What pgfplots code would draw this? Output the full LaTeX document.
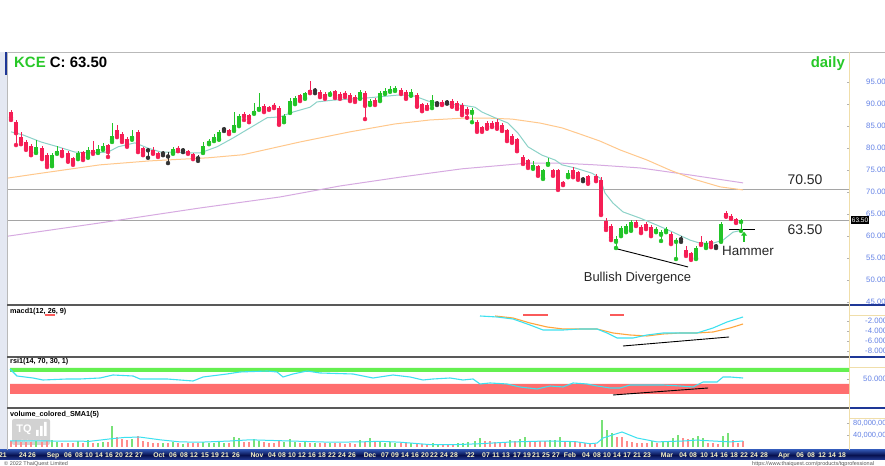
\documentclass[border=0pt]{standalone}
\usepackage{pgfplots}
\pgfplotsset{compat=1.18}
\usepackage{pgfplotstable}
\usepackage{fontspec}
\setmainfont{Liberation Sans}
\usetikzlibrary{arrows.meta}

\definecolor{candlegreen}{RGB}{34,196,40}
\definecolor{candlered}{RGB}{245,30,85}
\definecolor{histred}{RGB}{250,90,90}
\definecolor{volgreen}{RGB}{120,225,120}
\definecolor{volred}{RGB}{255,140,140}
\definecolor{cyanl}{RGB}{60,225,240}
\definecolor{orgl}{RGB}{255,165,60}
\definecolor{bandg}{RGB}{100,240,80}
\definecolor{bandr}{RGB}{255,110,110}
\definecolor{tealma}{RGB}{140,210,200}
\definecolor{orgma}{RGB}{255,200,140}
\definecolor{purma}{RGB}{215,170,225}
\definecolor{lvl}{RGB}{165,165,165}
\definecolor{tickblue}{RGB}{100,130,230}
\definecolor{beige}{RGB}{240,222,170}
\definecolor{sepblue}{RGB}{30,55,150}
\definecolor{datecol}{RGB}{250,245,200}
\definecolor{stripcol}{RGB}{228,232,242}
\definecolor{tqgreen}{RGB}{40,200,40}

\pgfplotstableread{
x o h l c
36 79.0 81.8 78.8 80.2
52 76.1 78.8 75.8 78.3
57 78.8 80.4 78.6 79.3
78 77.9 79.3 77.4 78.8
88 77.9 80.2 77.7 79.5
98 79.0 80.6 78.8 79.7
103 79.7 81.1 79.5 80.4
112 81.8 85.6 81.3 82.7
132 82.2 84.0 81.8 82.7
173 78.8 80.2 78.6 79.7
203 79.0 81.3 78.8 80.4
209 81.1 82.0 80.8 81.5
214 81.8 83.1 81.5 82.4
219 82.0 84.0 81.8 83.6
234 84.0 88.1 83.8 85.2
239 85.2 87.7 84.9 87.2
254 87.9 90.2 87.7 88.3
259 88.8 92.4 88.6 89.3
284 86.3 87.7 85.8 87.2
290 88.1 91.3 87.9 90.6
295 90.2 91.8 89.9 91.3
305 91.3 92.7 91.1 92.4
330 92.2 92.9 92.0 92.4
360 91.3 93.1 91.1 92.7
370 89.9 91.1 89.7 90.6
380 90.8 92.9 90.6 92.4
385 92.4 93.6 92.2 92.9
390 92.9 94.1 92.7 93.4
395 93.1 94.1 92.9 93.6
411 92.0 93.4 91.8 92.7
432 89.7 91.9 89.0 90.8
472 87.9 89.0 85.8 88.6
533 75.4 77.0 75.2 76.1
543 73.1 75.2 72.9 74.9
548 76.3 77.7 76.1 76.8
568 73.6 74.9 73.3 74.3
616 58.6 60.0 57.2 59.3
621 60.2 62.2 59.9 61.8
626 61.1 62.7 60.8 62.2
631 61.3 63.6 61.1 63.1
656 61.1 62.0 60.8 61.5
661 60.2 61.3 58.8 60.8
666 61.1 62.0 60.8 61.5
676 58.6 59.5 54.7 59.0
696 54.9 57.7 54.7 57.2
706 57.4 58.8 57.2 58.3
721 58.8 63.1 58.6 62.7
741 63.1 63.8 61.1 63.5
}\greenC

\pgfplotstableread{
x o h l c
11 88.1 88.6 86.3 86.8
16 85.8 86.3 80.6 83.3
21 82.4 83.6 80.8 81.3
26 81.3 81.8 79.5 79.9
31 80.4 80.8 78.3 78.8
42 79.9 80.4 77.4 77.9
47 78.3 78.8 75.6 76.1
62 79.5 79.9 78.1 78.3
68 78.8 79.3 76.8 77.2
73 77.7 77.9 76.1 76.5
83 79.0 79.3 77.2 77.7
93 79.5 81.5 78.6 79.0
108 80.6 80.8 77.9 79.0
117 84.0 85.2 82.4 82.9
122 83.1 83.6 81.3 81.8
127 82.0 82.4 80.2 80.6
138 83.6 84.0 79.0 79.5
143 79.9 80.2 78.3 78.8
153 79.5 80.2 78.6 78.8
158 78.8 79.0 77.9 78.3
178 79.9 80.4 79.2 79.5
188 79.3 79.5 78.6 78.8
193 78.6 78.8 77.4 77.9
229 84.0 84.3 83.1 83.3
244 87.7 88.1 86.3 87.0
249 87.4 87.7 85.8 86.5
264 89.5 89.9 88.1 88.3
269 89.3 89.5 88.6 88.8
274 89.7 90.2 89.0 89.3
279 89.0 89.5 85.2 85.4
300 92.0 92.2 90.6 90.8
310 93.1 95.2 92.4 92.7
320 92.7 93.1 91.5 91.8
325 92.2 92.7 91.1 91.5
335 92.9 93.1 91.3 91.8
340 92.2 92.7 91.1 91.5
345 92.4 92.9 91.5 92.0
350 92.0 92.4 90.6 90.8
355 91.5 92.0 90.4 90.8
365 92.4 92.9 86.5 89.5
375 90.8 91.3 89.7 90.2
401 93.1 93.6 92.2 92.4
406 92.7 93.1 91.1 91.3
417 92.0 92.4 89.3 89.5
422 89.9 90.2 88.3 88.6
427 89.7 90.2 88.8 89.0
442 90.4 90.8 89.7 89.9
452 90.6 91.1 89.3 89.5
457 90.2 90.6 88.8 89.0
462 89.7 90.2 87.4 87.9
467 88.8 89.3 86.8 87.9
477 85.8 86.3 83.6 84.0
482 84.7 84.9 83.6 84.0
487 85.6 86.1 84.3 84.7
492 85.6 86.1 84.7 84.9
497 85.8 86.5 84.3 84.7
502 85.2 85.6 83.8 84.0
507 84.0 84.3 81.5 81.8
512 82.7 83.1 81.1 81.3
517 82.0 82.2 79.2 79.5
523 77.9 78.3 76.3 76.5
528 77.2 77.4 75.4 75.8
538 75.8 76.1 73.6 73.8
553 74.9 75.2 73.6 73.8
558 74.9 75.2 70.4 70.8
563 72.2 72.4 71.5 71.8
573 74.9 75.6 73.3 73.6
578 74.5 74.7 72.7 73.1
588 73.6 73.8 71.8 72.2
596 73.6 74.0 72.4 72.7
601 72.7 73.3 64.7 64.9
606 63.3 64.0 61.3 61.8
611 62.2 62.7 59.0 59.5
636 63.1 63.6 62.2 62.4
641 62.0 62.4 60.6 60.8
646 62.7 63.1 61.5 61.8
651 62.0 62.4 59.9 60.2
671 60.4 60.8 58.1 58.3
686 56.8 57.7 55.4 55.8
691 56.1 56.3 54.5 54.9
701 58.6 59.9 57.9 58.1
711 58.8 59.0 57.4 57.7
726 65.2 65.6 64.3 64.5
731 64.5 64.9 63.8 64.0
736 63.8 64.0 62.9 63.1
}\redC

\pgfplotstableread{
x o h l c
148 79.6 79.9 77.7 79.4
163 78.9 79.3 78.3 78.7
168 78.2 79.0 76.5 78.0
183 79.6 79.9 79.0 79.4
198 77.8 78.3 77.0 77.6
224 84.4 84.7 83.8 84.2
315 93.2 93.6 92.4 93.0
437 90.3 90.6 89.7 90.1
447 90.5 90.8 90.0 90.3
583 73.0 73.3 72.4 72.8
681 59.4 59.9 58.6 59.2
716 57.8 58.1 57.2 57.6
}\dojiC

\pgfplotstableread{
x v
36 20
52 22
57 15
78 20
88 22
98 12
103 15
112 70
132 25
163 12
173 16
183 11
203 18
209 14
214 13
219 16
224 12
234 33
239 30
254 25
259 20
284 18
290 25
295 16
305 18
315 12
330 12
360 22
370 30
380 18
385 14
390 15
395 13
411 12
433 13
438 10
458 13
463 13
468 17
475 20
480 30
510 23
520 27
525 33
550 23
555 23
560 33
570 20
602 90
607 57
612 47
652 20
663 20
668 20
673 30
678 40
693 30
698 37
703 30
723 37
728 47
}\volG

\pgfplotstableread{
x v
11 20
16 22
21 18
26 16
31 18
42 18
47 20
62 14
68 12
73 13
83 14
93 14
108 17
117 33
122 28
127 22
138 37
143 20
148 16
153 14
158 12
168 14
178 12
188 12
193 14
198 12
229 12
244 18
249 16
264 18
269 14
274 14
279 22
300 14
310 13
320 14
325 12
335 13
340 12
345 11
350 12
355 11
365 15
375 15
401 12
406 12
417 12
422 10
427 9
443 10
448 7
453 7
485 20
490 20
495 17
500 17
505 13
515 20
530 20
535 17
540 20
545 20
565 17
575 20
580 17
585 13
590 13
595 10
617 33
622 33
627 20
632 17
637 13
642 13
647 13
657 13
683 30
688 27
708 13
713 13
718 10
733 23
738 13
743 20
}\volR

\pgfplotstableread{
x y
45 -0.9
55 -0.9
nan nan
523 -0.9
548 -0.9
nan nan
610 -0.9
624 -0.9
}\macdHist

\pgfplotsset{
  tqpanel/.style={
    scale only axis, width=849bp, xmin=0, xmax=849,
    anchor=south west,
    axis y line*=right,
    y axis line style={draw=beige, line width=1bp},
    ytick style={draw=gray!60},
    major tick length=2bp,
    yticklabel style={font=\fontsize{7.8}{8}\selectfont, text=tickblue, anchor=west, inner sep=0pt},
  },
  wick/.style={only marks, mark=none, forget plot, color=#1,
    error bars/y dir=plus, error bars/y explicit, error bars/error mark=none,
    error bars/error bar style={line width=0.9bp, color=#1, solid}},
  body/.style={only marks, mark=none, forget plot, color=#1,
    error bars/y dir=plus, error bars/y explicit, error bars/error mark=none,
    error bars/error bar style={line width=3.8bp, color=#1, solid}},
}

\begin{document}
\begin{tikzpicture}[x=1bp,y=1bp]
\useasboundingbox (0,0) rectangle (885,466);
\clip (0,0) rectangle (885,466);
\fill[white] (0,0) rectangle (885,466);
% left strip
\fill[stripcol] (0,16) rectangle (7,414);
\fill[sepblue] (4.5,391) rectangle (7.5,414);
% date bar
\shade[top color={rgb,255:red,45;green,80;blue,170}, bottom color={rgb,255:red,35;green,60;blue,150}, middle color={rgb,255:red,8;green,18;blue,80}] (0,6) rectangle (885,16);
% frames
\draw[gray!55, line width=0.8bp] (7,414) -- (885,414);
\draw[gray!55, line width=0.8bp] (7.5,16) -- (7.5,414);
\draw[gray!70!black, line width=1.4bp] (7,161) -- (849,161);
\draw[gray!70!black, line width=1.4bp] (7,109) -- (849,109);
\draw[gray!70!black, line width=1.4bp] (7,58) -- (849,58);
\draw[sepblue, line width=1.4bp] (849,161) -- (885,161);
\draw[sepblue, line width=1.4bp] (849,109) -- (885,109);
\draw[sepblue, line width=1.4bp] (849,58) -- (885,58);
\draw[beige, line width=1bp] (849.5,150) -- (885,150);
\draw[beige, line width=1bp] (849.5,98) -- (885,98);
\draw[beige, line width=1bp] (849.5,47) -- (885,47);
% watermark
\fill[gray!35, rounded corners=2bp] (12,21) rectangle (50,47);
\node[text=white, font=\fontsize{11}{11}\bfseries] at (24,36) {TQ};
\fill[white] (36,30) rectangle (38.5,36) (40,30) rectangle (42.5,40) (44,30) rectangle (46.5,44);
\node[text=white, font=\fontsize{3.5}{4}\selectfont] at (31,25) {Professional};

% ---------- main price panel ----------
\begin{axis}[tqpanel, at={(0bp,161bp)}, height=253bp, ymin=44.25, ymax=101.75,
  axis x line=none, xtick=\empty,
  ytick={45,50,55,60,65,70,75,80,85,90,95},
  yticklabels={45.00,50.00,55.00,60.00,65.00,70.00,75.00,80.00,85.00,90.00,95.00},
  yticklabel style={xshift=17bp}]
\addplot[lvl, line width=1.2bp, forget plot] coordinates {(8,70.5)(849,70.5)};
\addplot[lvl, line width=1.2bp, forget plot] coordinates {(8,63.5)(849,63.5)};
\addplot[purma, line width=1bp] coordinates {(8,59.9)(100,62.9)(200,66.3)(280,68.8)(340,71.3)(400,73.3)(462,75.2)(528,76.5)(560,76.5)(595,76.1)(640,75.4)(690,73.8)(743,72.0)};
\addplot[orgma, line width=1bp] coordinates {(8,73.1)(35,74.0)(100,76.1)(150,77.0)(208,77.7)(243,78.4)(300,81.3)(350,83.6)(395,85.4)(430,86.3)(462,86.7)(490,86.7)(512,86.5)(540,85.6)(562,84.5)(580,83.1)(600,81.5)(620,79.5)(647,77.2)(670,74.9)(693,72.9)(720,71.1)(743,70.4)};
\addplot[tealma, line width=1bp] coordinates {(11,83.6)(23,82.9)(41,81.3)(58,80.2)(75,79.0)(91,78.8)(108,79.0)(118,80.2)(135,81.1)(148,79.9)(161,79.0)(175,79.0)(188,78.8)(200,78.8)(217,80.2)(233,82.2)(250,84.5)(267,86.8)(280,87.0)(293,88.1)(310,89.2)(317,90.4)(333,90.8)(367,91.3)(400,92.0)(415,91.7)(428,90.6)(445,89.9)(462,89.7)(475,89.2)(482,88.1)(495,86.8)(508,85.6)(518,83.3)(528,80.2)(542,78.3)(555,77.2)(562,76.1)(575,75.4)(592,74.2)(600,73.1)(605,69.7)(613,67.4)(623,65.4)(640,64.0)(657,62.4)(673,60.8)(690,59.0)(700,58.3)(713,58.3)(723,59.0)(733,60.8)(743,61.3)};
\addplot[wick=candlegreen] table[x=x, y=l, y error plus expr=\thisrow{h}-\thisrow{l}] {\greenC};
\addplot[body=candlegreen] table[x=x, y=o, y error plus expr=\thisrow{c}-\thisrow{o}] {\greenC};
\addplot[wick=candlered] table[x=x, y=l, y error plus expr=\thisrow{h}-\thisrow{l}] {\redC};
\addplot[body=candlered] table[x=x, y=c, y error plus expr=\thisrow{o}-\thisrow{c}] {\redC};
\addplot[wick=black!80] table[x=x, y=l, y error plus expr=\thisrow{h}-\thisrow{l}] {\dojiC};
\addplot[body=black!80] table[x=x, y=c, y error plus expr=\thisrow{o}-\thisrow{c}] {\dojiC};
\addplot[black, line width=0.9bp, forget plot] coordinates {(617,57.0)(688,52.9)};
\addplot[black, line width=1bp, forget plot] coordinates {(729,61.3)(755,61.3)};
\addplot[candlegreen, line width=1.4bp, forget plot, -{Triangle[width=6bp,length=4bp]}] coordinates {(744,58.6)(744,60.9)};
\end{axis}

% ---------- MACD panel ----------
\begin{axis}[tqpanel, at={(0bp,109bp)}, height=52bp, ymin=-9.2, ymax=1.2,
  axis x line=none, xtick=\empty, unbounded coords=jump,
  ytick={-8,-6,-4,-2}, yticklabels={-8.000,-6.000,-4.000,-2.000},
  yticklabel style={xshift=16bp}]
\addplot[draw=histred, line width=2bp, mark=none, forget plot] table[x=x, y=y] {\macdHist};
\addplot[orgl, line width=1.1bp] coordinates {(495,-1.0)(513,-1.4)(530,-2.4)(547,-3.2)(563,-3.6)(580,-3.6)(597,-3.6)(613,-4.4)(630,-4.8)(647,-5.0)(663,-4.6)(680,-4.4)(697,-4.4)(713,-4.2)(730,-3.4)(743,-2.6)};
\addplot[cyanl, line width=1.1bp] coordinates {(480,-1.0)(497,-1.2)(513,-1.6)(530,-2.8)(543,-3.8)(563,-3.8)(580,-3.6)(597,-3.6)(607,-4.4)(617,-5.4)(633,-5.4)(647,-4.8)(663,-4.4)(680,-4.4)(697,-4.4)(713,-3.4)(727,-2.2)(743,-1.2)};
\addplot[black, line width=0.9bp, forget plot] coordinates {(623,-7.0)(729,-5.2)};
\end{axis}

% ---------- RSI panel ----------
\begin{axis}[tqpanel, at={(0bp,58bp)}, height=51bp, ymin=-8, ymax=94,
  axis x line=none, xtick=\empty,
  ytick={50}, yticklabels={50.000},
  yticklabel style={xshift=14bp}]
\addplot[draw=none, fill=bandg, forget plot] coordinates {(10,64)(849,64)(849,72)(10,72)(10,64)};
\addplot[draw=none, fill=bandr, forget plot] coordinates {(10,20)(849,20)(849,40)(10,40)(10,20)};
\addplot[cyanl, line width=1.1bp] coordinates {(10,70)(17,56)(33,52)(43,48)(67,50)(80,50)(100,52)(113,58)(133,56)(140,50)(167,50)(193,46)(203,54)(227,60)(240,64)(267,66)(277,64)(283,54)(293,60)(307,66)(320,62)(353,60)(363,56)(373,52)(393,58)(410,54)(423,48)(433,50)(450,52)(463,48)(473,50)(480,40)(490,42)(507,40)(520,34)(537,30)(550,36)(563,34)(573,42)(587,40)(597,36)(610,32)(620,32)(630,38)(647,38)(663,38)(680,36)(693,34)(703,44)(717,44)(723,54)(730,54)(743,52)};
\addplot[black, line width=0.9bp, forget plot] coordinates {(613,18)(708,32)};
\end{axis}

% ---------- Volume panel ----------
\begin{axis}[tqpanel, at={(0bp,16bp)}, height=42bp, ymin=-10, ymax=130,
  axis x line*=bottom, x axis line style={draw=none}, xtick style={draw=none},
  ytick={40,80}, yticklabels={{40,000,000},{80,000,000}},
  yticklabel style={xshift=4bp, font=\fontsize{7.5}{8}\selectfont},
  xtick={2,23,32,53,68,79,89,99,109,119,129,139,159,173,184,194,205,215,225,236,257,272,282,292,302,312,322,332,342,352,370,385,395,405,415,425,434,444,454,470,486,496,506,517,527,536,546,556,570,586,597,607,617,627,637,647,667,683,693,704,714,724,734,744,754,764,784,800,811,822,832,842},
  xticklabels={{'21},24,26,Sep,06,08,10,14,16,20,22,27,Oct,06,08,12,15,19,21,26,Nov,04,08,10,12,16,18,22,24,26,Dec,07,09,14,16,20,22,24,28,{'22},07,11,13,17,19,21,25,27,Feb,04,08,10,14,17,21,23,Mar,04,08,10,14,16,18,22,24,28,Apr,06,08,12,14,18},
  xticklabel style={font=\fontsize{6.8}{7}\bfseries, text=datecol, anchor=base, inner sep=0pt, yshift=-7.6bp}]
\addplot[ycomb, color=volgreen, line width=1.2bp, mark=none, forget plot] table[x=x, y=v] {\volG};
\addplot[ycomb, color=volred, line width=1.2bp, mark=none, forget plot] table[x=x, y=v] {\volR};
\addplot[cyanl, line width=1bp] coordinates {(10,20)(50,20)(90,19)(110,27)(125,32)(140,33)(160,24)(180,17)(200,16)(230,20)(250,24)(270,22)(300,19)(330,16)(360,17)(380,19)(400,16)(430,8)(457,8)(480,11)(513,17)(547,20)(575,18)(590,11)(597,13)(603,30)(622,50)(637,30)(657,17)(683,20)(697,23)(713,20)(730,17)(743,20)};
\end{axis}

% ---------- texts ----------
\node[anchor=base west, inner sep=0pt, font=\fontsize{15}{15}\bfseries] at (14,398) {\textcolor{tqgreen}{KCE} C: 63.50};
\node[anchor=base east, inner sep=0pt, font=\fontsize{15}{15}\bfseries, text=tqgreen] at (845,398) {daily};
\node[font=\fontsize{14}{14}\selectfont, text=black!85] at (805,286) {70.50};
\node[font=\fontsize{14}{14}\selectfont, text=black!85] at (805,236) {63.50};
\node[font=\fontsize{13.5}{14}\selectfont, text=black!85] at (748,215) {Hammer};
\node[font=\fontsize{13}{14}\selectfont, text=black!85] at (637.5,188) {Bullish Divergence};
\node[fill=black, text=white, inner sep=1.3bp, font=\fontsize{6.5}{6.5}\selectfont] at (860,246) {63.50};
\node[anchor=base west, inner sep=0pt, font=\fontsize{7.3}{8}\bfseries] at (10,152.5) {macd1(12, 26, 9)};
\node[anchor=base west, inner sep=0pt, font=\fontsize{7.3}{8}\bfseries] at (10,102) {rsi1(14, 70, 30, 1)};
\node[anchor=base west, inner sep=0pt, font=\fontsize{7.3}{8}\bfseries] at (10,49.5) {volume\_colored\_SMA1(5)};
\node[anchor=base west, inner sep=0pt, font=\fontsize{5.5}{6}\selectfont, text=gray!70!black] at (4,0.8) {\textcopyright{} 2022 ThaiQuest Limited};
\node[anchor=base west, inner sep=0pt, font=\fontsize{5.5}{6}\selectfont, text=gray!70!black] at (752,0.8) {https://www.thaiquest.com/products/tqprofessional};
\end{tikzpicture}
\end{document}
